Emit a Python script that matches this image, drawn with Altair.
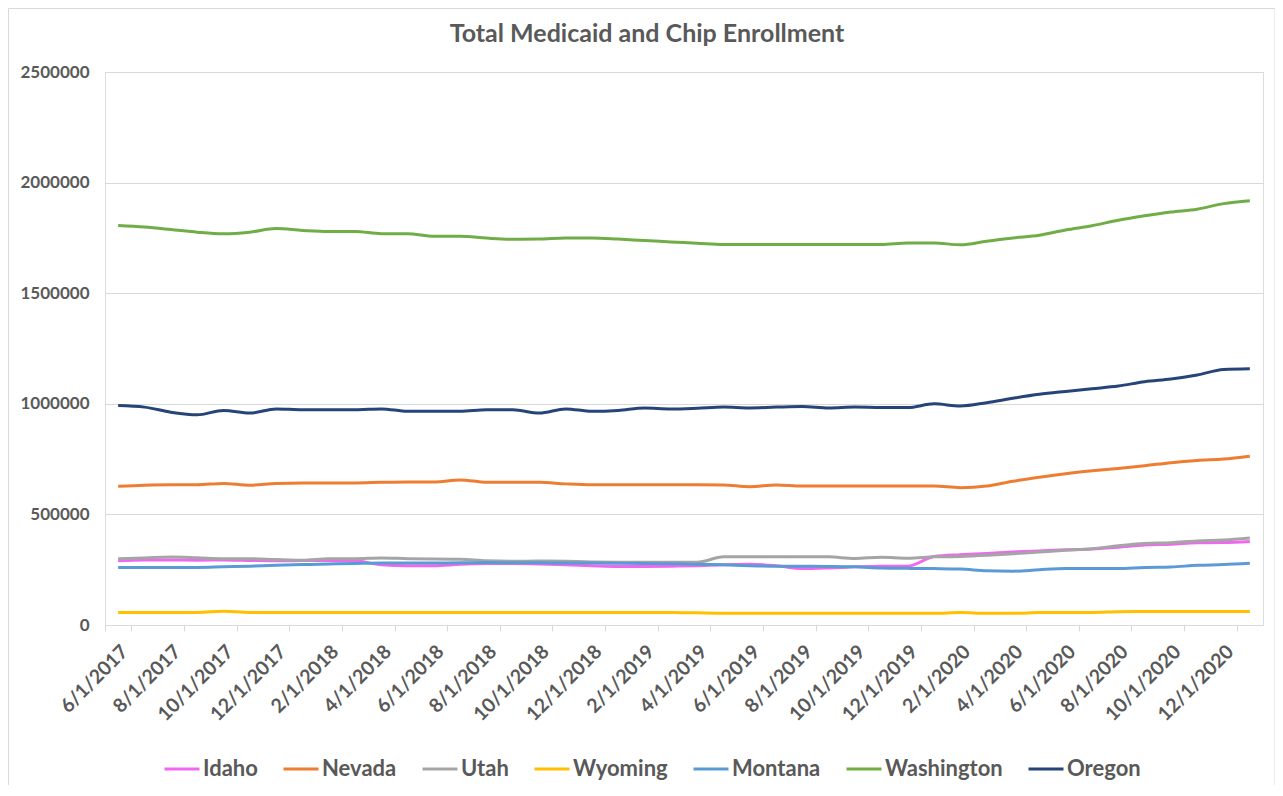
import altair as alt
import pandas as pd

months = [
    "6/1/2017", "7/1/2017", "8/1/2017", "9/1/2017", "10/1/2017", "11/1/2017", "12/1/2017",
    "1/1/2018", "2/1/2018", "3/1/2018", "4/1/2018", "5/1/2018", "6/1/2018", "7/1/2018",
    "8/1/2018", "9/1/2018", "10/1/2018", "11/1/2018", "12/1/2018",
    "1/1/2019", "2/1/2019", "3/1/2019", "4/1/2019", "5/1/2019", "6/1/2019", "7/1/2019",
    "8/1/2019", "9/1/2019", "10/1/2019", "11/1/2019", "12/1/2019",
    "1/1/2020", "2/1/2020", "3/1/2020", "4/1/2020", "5/1/2020", "6/1/2020", "7/1/2020",
    "8/1/2020", "9/1/2020", "10/1/2020", "11/1/2020", "12/1/2020", "1/1/2021",
]
tick_labels = [
    "6/1/2017", "8/1/2017", "10/1/2017", "12/1/2017", "2/1/2018", "4/1/2018", "6/1/2018",
    "8/1/2018", "10/1/2018", "12/1/2018", "2/1/2019", "4/1/2019", "6/1/2019", "8/1/2019",
    "10/1/2019", "12/1/2019", "2/1/2020", "4/1/2020", "6/1/2020", "8/1/2020", "10/1/2020",
    "12/1/2020",
]

# values in thousands
idaho = [290, 294, 294, 293, 294, 292, 290, 292, 292, 290, 272, 268, 268, 275, 278, 278,
         276, 272, 268, 265, 265, 266, 268, 272, 275, 268, 255, 258, 263, 266, 266, 310,
         318, 323, 330, 335, 340, 344, 352, 362, 365, 372, 373, 378]
nevada = [627, 632, 634, 634, 640, 632, 640, 642, 642, 642, 645, 647, 647, 656, 645, 645,
          645, 638, 634, 634, 634, 634, 634, 633, 625, 633, 628, 628, 628, 628, 628, 628,
          621, 628, 650, 668, 684, 697, 708, 720, 734, 744, 750, 763]
utah = [300, 303, 307, 304, 300, 300, 296, 293, 300, 300, 303, 300, 298, 297, 290, 288,
        289, 288, 285, 284, 284, 284, 284, 308, 309, 309, 309, 308, 301, 306, 302, 308,
        310, 315, 322, 330, 338, 345, 358, 368, 372, 380, 384, 393]
wyoming = [57, 57, 57, 57, 62, 57, 57, 57, 57, 57, 57, 57, 57, 57, 57, 57,
           57, 57, 57, 57, 57, 57, 55, 53, 53, 53, 53, 53, 53, 53, 53, 53,
           56, 53, 53, 56, 57, 57, 60, 61, 61, 61, 61, 61]
montana = [260, 260, 260, 260, 263, 266, 270, 273, 276, 278, 280, 280, 280, 281, 282, 281,
           281, 280, 280, 279, 278, 277, 275, 272, 268, 266, 266, 265, 263, 258, 256, 255,
           253, 245, 243, 250, 255, 255, 255, 260, 262, 270, 273, 279]
washington = [1806, 1799, 1788, 1776, 1769, 1776, 1792, 1784, 1779, 1779, 1769, 1769, 1757, 1757,
              1749, 1744, 1745, 1750, 1750, 1745, 1738, 1732, 1726, 1720, 1720, 1720, 1720, 1720,
              1720, 1720, 1727, 1727, 1719, 1735, 1750, 1762, 1786, 1805, 1830, 1850, 1867, 1880,
              1905, 1918]
oregon = [992, 985, 962, 950, 970, 958, 977, 973, 973, 973, 977, 966, 966, 966, 973, 973,
          958, 977, 966, 970, 981, 977, 980, 985, 981, 985, 988, 981, 985, 983, 983, 1000,
          990, 1005, 1025, 1043, 1056, 1068, 1080, 1100, 1112, 1130, 1155, 1158]

states = ["Idaho", "Nevada", "Utah", "Wyoming", "Montana", "Washington", "Oregon"]
colors = ["#F266F2", "#ED7D31", "#A5A5A5", "#FFC000", "#5B9BD5", "#70AD47", "#264478"]
series = [idaho, nevada, utah, wyoming, montana, washington, oregon]
y_ticks = [0, 500000, 1000000, 1500000, 2000000, 2500000]

rows = []
for s, vals in zip(states, series):
    for m, v in zip(months, vals):
        rows.append({"Month": m, "State": s, "Enrollment": v * 1000})
df = pd.DataFrame(rows)

FONT = "Lato"
TXT = "#595959"

lines = alt.Chart(df).mark_line(strokeWidth=3, interpolate="monotone").encode(
    x=alt.X(
        "Month:N",
        sort=months,
        bandPosition=0.5,
        scale=alt.Scale(type="band", paddingInner=0, paddingOuter=0),
        axis=alt.Axis(
            title=None,
            values=tick_labels,
            tickBand="extent",
            labelAngle=-45,
            labelAlign="right",
            labelBaseline="top",
            labelFont=FONT,
            labelFontSize=19.5,
            labelFontWeight="bold",
            labelColor=TXT,
            labelPadding=11,
            domainColor="#D9D9D9",
            tickColor="#D9D9D9",
            tickSize=6,
            grid=False,
        ),
    ),
    y=alt.Y(
        "Enrollment:Q",
        scale=alt.Scale(domain=[0, 2500000], nice=False),
        axis=alt.Axis(
            title=None,
            values=y_ticks,
            format="d",
            labelFont=FONT,
            labelFontSize=17,
            labelFontWeight="bold",
            labelColor=TXT,
            labelPadding=16,
            ticks=False,
            domain=False,
            grid=True,
            gridColor="#D9D9D9",
            gridWidth=1,
        ),
    ),
    color=alt.Color(
        "State:N",
        sort=states,
        scale=alt.Scale(domain=states, range=colors),
        legend=alt.Legend(
            title=None,
            orient="none",
            direction="horizontal",
            legendX=58,
            legendY=678,
            symbolType="stroke",
            symbolStrokeWidth=3,
            symbolSize=1225,
            labelFont=FONT,
            labelFontSize=22,
            labelFontWeight="bold",
            labelColor=TXT,
            labelOffset=2,
            columnPadding=19,
        ),
    ),
)

border = alt.Chart(pd.DataFrame({"a": [0]})).mark_rect(
    fill=None, stroke="#D9D9D9", strokeWidth=1
).encode(
    x=alt.value(-96.5), x2=alt.value(1170), y=alt.value(-63.5), y2=alt.value(714)
)

chart = alt.layer(border, lines).properties(
    width=1158,
    height=553,
    autosize=alt.AutoSizeParams(type="none"),
    padding={"left": 97, "top": 64, "right": 12, "bottom": 160},
    title=alt.TitleParams(
        "Total Medicaid and Chip Enrollment",
        anchor="middle",
        dx=-37,
        offset=-39,
        font=FONT,
        fontSize=25,
        fontWeight="bold",
        color=TXT,
    ),
).configure_view(stroke=None).configure(background="white")

chart.save("out.html", embed_options={"renderer": "svg", "actions": False})
